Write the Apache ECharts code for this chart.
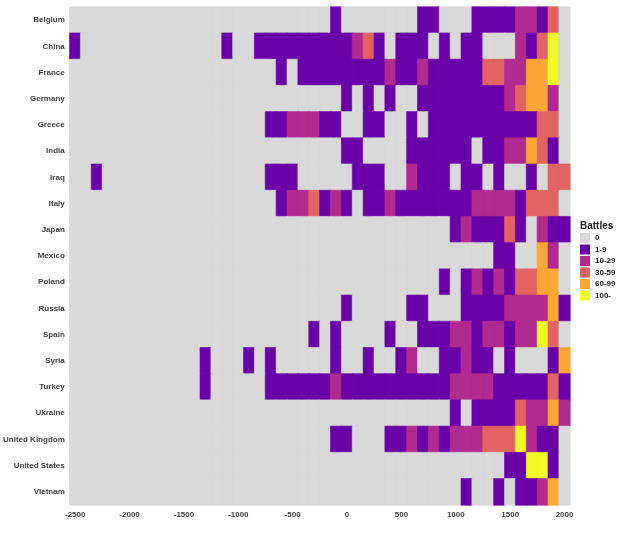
<!DOCTYPE html>
<html><head><meta charset="utf-8">
<script src="https://cdn.jsdelivr.net/npm/echarts@6/dist/echarts.min.js"></script>
<style>html,body{margin:0;padding:0;background:#fff}#c{width:621px;height:537px}</style>
</head><body><div id="c"></div>
<script>
const countries = ["Belgium","China","France","Germany","Greece","India","Iraq","Italy","Japan","Mexico","Poland","Russia","Spain","Syria","Turkey","Ukraine","United Kingdom","United States","Vietnam"];
const levelLabels = ["0","1-9","10-29","30-59","60-99","100-"];
const levelColors = ["#d9d9d9","#6a00a8","#b12a90","#e16462","#fca636","#f0f921"];
const years = []; for (let y = -2500; y <= 2000; y += 100) years.push(y);
// [century, battle level index]
const belgium = [[-100,1],[700,1],[800,1],[1200,1],[1300,1],[1400,1],[1500,1],[1600,2],[1700,2],[1800,1],[1900,3]];
const china = [[-2500,1],[-1100,1],[-800,1],[-700,1],[-600,1],[-500,1],[-400,1],[-300,1],[-200,1],[-100,1],[0,1],[100,2],[200,3],[300,1],[500,1],[600,1],[700,1],[900,1],[1100,1],[1200,1],[1600,2],[1700,1],[1800,3],[1900,5]];
const france = [[-600,1],[-400,1],[-300,1],[-200,1],[-100,1],[0,1],[100,1],[200,1],[300,1],[400,2],[500,1],[600,1],[700,2],[800,1],[900,1],[1000,1],[1100,1],[1200,1],[1300,3],[1400,3],[1500,2],[1600,2],[1700,4],[1800,4],[1900,5]];
const germany = [[0,1],[200,1],[400,1],[700,1],[800,1],[900,1],[1000,1],[1100,1],[1200,1],[1300,1],[1400,1],[1500,2],[1600,3],[1700,4],[1800,4],[1900,2]];
const greece = [[-700,1],[-600,1],[-500,2],[-400,2],[-300,2],[-200,1],[-100,1],[200,1],[300,1],[600,1],[800,1],[900,1],[1000,1],[1100,1],[1200,1],[1300,1],[1400,1],[1500,1],[1600,1],[1700,1],[1800,3],[1900,3]];
const india = [[0,1],[100,1],[600,1],[700,1],[800,1],[900,1],[1000,1],[1100,1],[1300,1],[1400,1],[1500,2],[1600,2],[1700,4],[1800,3],[1900,1]];
const iraq = [[-2300,1],[-700,1],[-600,1],[-500,1],[100,1],[200,1],[300,1],[600,2],[700,1],[800,1],[900,1],[1100,1],[1200,1],[1400,1],[1700,1],[1900,3],[2000,3]];
const italy = [[-600,1],[-500,2],[-400,2],[-300,3],[-200,1],[-100,2],[0,1],[200,1],[300,1],[400,2],[500,1],[600,1],[700,1],[800,1],[900,1],[1000,1],[1100,1],[1200,2],[1300,2],[1400,2],[1500,2],[1600,1],[1700,3],[1800,3],[1900,3]];
const japan = [[1000,1],[1100,2],[1200,1],[1300,1],[1400,1],[1500,3],[1600,1],[1800,2],[1900,1],[2000,1]];
const mexico = [[1400,1],[1500,1],[1800,4],[1900,2]];
const poland = [[900,1],[1100,1],[1200,2],[1300,1],[1400,2],[1500,1],[1600,3],[1700,3],[1800,4],[1900,4]];
const russia = [[0,1],[600,1],[700,1],[1100,1],[1200,1],[1300,1],[1400,1],[1500,2],[1600,2],[1700,2],[1800,2],[1900,4],[2000,1]];
const spain = [[-300,1],[-100,1],[400,1],[700,1],[800,1],[900,1],[1000,2],[1100,2],[1200,1],[1300,2],[1400,2],[1500,1],[1600,2],[1700,2],[1800,5],[1900,3]];
const syria = [[-1300,1],[-900,1],[-700,1],[-100,1],[200,1],[500,1],[600,2],[900,1],[1000,1],[1100,2],[1200,1],[1300,1],[1500,1],[1900,1],[2000,4]];
const turkey = [[-1300,1],[-700,1],[-600,1],[-500,1],[-400,1],[-300,1],[-200,1],[-100,2],[0,1],[100,1],[200,1],[300,1],[400,1],[500,1],[600,1],[700,1],[800,1],[900,1],[1000,2],[1100,2],[1200,2],[1300,2],[1400,1],[1500,1],[1600,1],[1700,1],[1800,1],[1900,3],[2000,1]];
const ukraine = [[1000,1],[1200,1],[1300,1],[1400,1],[1500,1],[1600,3],[1700,2],[1800,2],[1900,4],[2000,2]];
const unitedKingdom = [[-100,1],[0,1],[400,1],[500,1],[600,2],[700,1],[800,2],[900,1],[1000,2],[1100,2],[1200,2],[1300,3],[1400,3],[1500,3],[1600,5],[1700,2],[1800,1],[1900,1]];
const unitedStates = [[1500,1],[1600,1],[1700,5],[1800,5],[1900,1]];
const vietnam = [[1100,1],[1400,1],[1600,1],[1700,1],[1800,2],[1900,4]];
const rows = [belgium,china,france,germany,greece,india,iraq,italy,japan,mexico,poland,russia,spain,syria,turkey,ukraine,unitedKingdom,unitedStates,vietnam];

const data = [];
rows.forEach((r, ci) => {
  const m = {}; r.forEach(([y, l]) => m[y] = l);
  years.forEach((y, xi) => {
    const lv = m[y] || 0;
    data.push({value: [xi, ci, lv], itemStyle: {color: levelColors[lv], borderColor: levelColors[lv], borderWidth: 0.6}});
  });
});
const chart = echarts.init(document.getElementById('c'));
chart.setOption({
  animation: false,
  title: {text: 'Battles', left: 580, top: 221, padding: 0, textStyle: {fontSize: 10, fontWeight: 'bold', color: '#222', fontFamily: 'Liberation Sans'}},
  grid: {left: 67, right: 51, top: 7, bottom: 32, show: true, backgroundColor: '#d9d9d9', borderWidth: 0},
  xAxis: {type: 'category', data: years.map(String), axisLine: {show: false}, axisTick: {show: false}, splitLine: {show: false}, splitArea: {show: false},
    axisLabel: {interval: (i) => i % 5 === 0, fontSize: 8, fontWeight: 'bold', color: '#444', margin: 6, fontFamily: 'Liberation Sans'}},
  yAxis: {type: 'category', data: countries, inverse: true, axisLine: {show: false}, axisTick: {show: false}, splitLine: {show: false}, splitArea: {show: false},
    axisLabel: {fontSize: 8, fontWeight: 'bold', color: '#444', margin: 5, fontFamily: 'Liberation Sans'}},
  visualMap: {type: 'piecewise', dimension: 2, seriesIndex: [], left: 580, top: 233, padding: 0, orient: 'vertical', align: 'left', itemWidth: 10, itemHeight: 10, itemGap: 1.5, itemSymbol: 'rect',
    textGap: 5, textStyle: {fontSize: 8, fontWeight: 'bold', color: '#222', fontFamily: 'Liberation Sans'}, selectedMode: false, inverse: true,
    pieces: levelLabels.map((l, i) => ({value: i, label: l, color: levelColors[i]}))},
  series: [{type: 'heatmap', data: data, emphasis: {disabled: true}}]
});
</script></body></html>
